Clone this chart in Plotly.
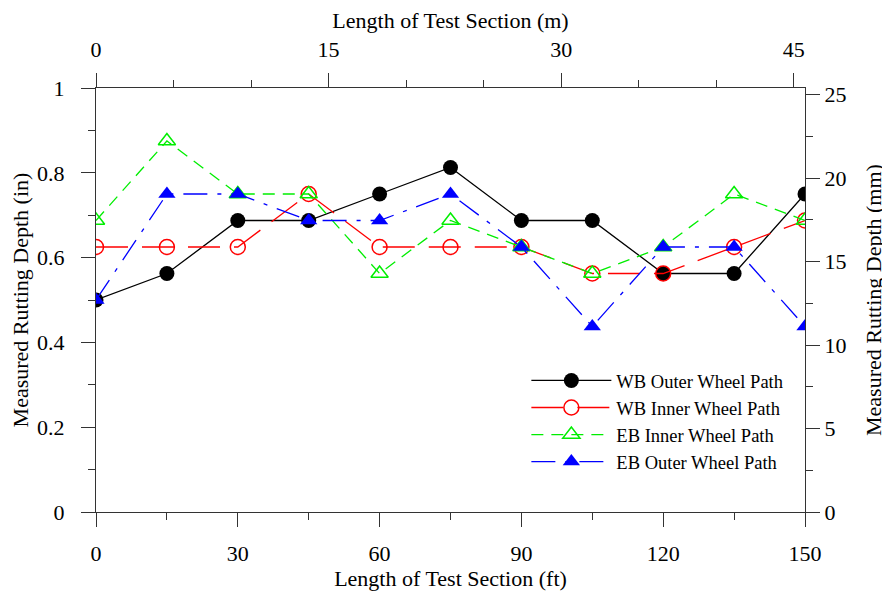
import plotly.graph_objects as go

x_ft = [0, 15, 30, 45, 60, 75, 90, 105, 120, 135, 150]
wb_outer = [0.5, 0.5625, 0.6875, 0.6875, 0.75, 0.8125, 0.6875, 0.6875, 0.5625, 0.5625, 0.75]
wb_inner = [0.625, 0.625, 0.625, 0.75, 0.625, 0.625, 0.625, 0.5625, 0.5625, 0.625, 0.6875]
eb_inner = [0.6875, 0.875, 0.75, 0.75, 0.5625, 0.6875, 0.625, 0.5625, 0.625, 0.75, 0.6875]
eb_outer = [0.5, 0.75, 0.75, 0.6875, 0.6875, 0.75, 0.625, 0.4375, 0.625, 0.625, 0.4375]

bottom_ticks = [0, 30, 60, 90, 120, 150]
top_ticks_m = [0, 15, 30, 45]
left_ticks = [0, 0.2, 0.4, 0.6, 0.8, 1]
left_labels = ["0", "0.2", "0.4", "0.6", "0.8", "1"]
right_ticks_mm = [0, 5, 10, 15, 20, 25]

FONT = "Liberation Serif"
fig = go.Figure()

fig.add_trace(go.Scatter(x=x_ft, y=wb_outer, name="WB Outer Wheel Path", mode="lines+markers",
                         line=dict(color="black", width=1.3),
                         marker=dict(symbol="circle", size=15, color="black")))
fig.add_trace(go.Scatter(x=x_ft, y=wb_inner, name="WB Inner Wheel Path", mode="lines+markers",
                         line=dict(color="red", width=1.3, dash="32px,14px"),
                         marker=dict(symbol="circle-open", size=15, color="red", line=dict(width=1.5))))
fig.add_trace(go.Scatter(x=x_ft, y=eb_inner, name="EB Inner Wheel Path", mode="lines+markers",
                         line=dict(color="#00ee00", width=1.3, dash="12px,8px"),
                         marker=dict(symbol="triangle-up-open", size=15, color="#00ee00", line=dict(width=1.5))))
fig.add_trace(go.Scatter(x=x_ft, y=eb_outer, name="EB Outer Wheel Path", mode="lines+markers",
                         line=dict(color="blue", width=1.3, dash="24px,10px,4px,10px"),
                         marker=dict(symbol="triangle-up", size=15, color="blue")))
# invisible trace for secondary axes
fig.add_trace(go.Scatter(x=[0], y=[0], xaxis="x2", yaxis="y2", mode="markers",
                         marker=dict(opacity=0), showlegend=False, hoverinfo="skip"))

axis_common = dict(showgrid=False, zeroline=False, showline=True, linecolor="#333333", linewidth=1.2,
                   ticks="outside", ticklen=14, tickcolor="#333333", tickwidth=1.2,
                   automargin=False,
                   tickfont=dict(family=FONT, size=22, color="black"))
minor_common = dict(ticks="outside", ticklen=7, tickcolor="#333333", tickwidth=1.2)
title_font = dict(family=FONT, size=22, color="black")

fig.update_layout(
    width=890, height=592,
    margin=dict(l=88, r=93, t=80, b=88),
    plot_bgcolor="white", paper_bgcolor="white",
    font=dict(family=FONT, size=22, color="black"),
    xaxis=dict(range=[0, 150], tickvals=bottom_ticks, ticklabelstandoff=7,
               minor=dict(tickvals=[15, 45, 75, 105, 135], **minor_common),
               title=dict(text="Length of Test Section (ft)", font=title_font, standoff=6),
               **axis_common),
    yaxis=dict(range=[0, 1], tickvals=left_ticks, ticktext=left_labels, ticklabelstandoff=12,
               minor=dict(tickvals=[0.1, 0.3, 0.5, 0.7, 0.9], **minor_common),
               title=dict(text="Measured Rutting Depth (in)", font=title_font, standoff=6),
               **axis_common),
    xaxis2=dict(overlaying="x", side="top", range=[0, 45.72], tickvals=top_ticks_m, ticklabelstandoff=7,
                minor=dict(tickvals=[5, 10, 20, 25, 35, 40], **minor_common),
                title=dict(text="Length of Test Section (m)", font=title_font, standoff=4),
                **axis_common),
    yaxis2=dict(overlaying="y", side="right", range=[0, 25.4], tickvals=right_ticks_mm,
                tickprefix="\u00a0\u00a0",
                minor=dict(tickvals=[2.5, 7.5, 12.5, 17.5, 22.5], **minor_common),
                **axis_common),
    annotations=[dict(text="Measured Rutting Depth (mm)", xref="paper", yref="paper",
                      x=1.0959, y=0.5, xanchor="center", yanchor="middle", textangle=-90,
                      showarrow=False, font=title_font)],
    legend=dict(x=0.607, y=0.354, xanchor="left", yanchor="top", bgcolor="rgba(0,0,0,0)",
                font=dict(family=FONT, size=18.5), itemwidth=80, tracegroupgap=0),
    showlegend=True,
)

fig.write_html("out.html")
